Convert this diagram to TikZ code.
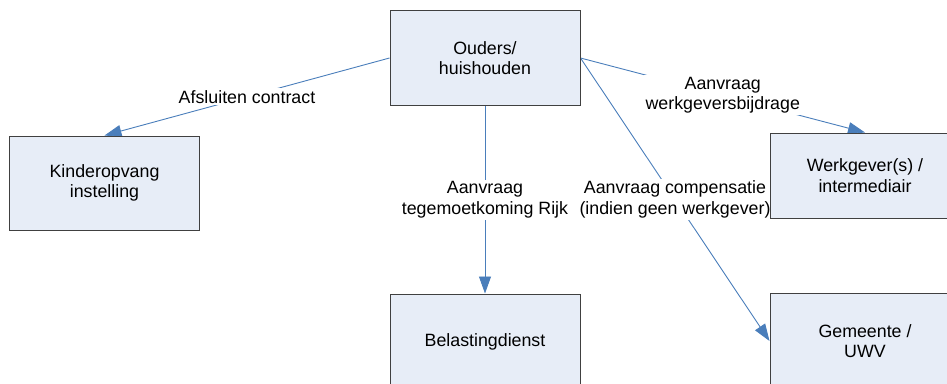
\documentclass[tikz,border=0pt]{standalone}
\usepackage{fontspec}
\setmainfont{Liberation Sans}
\usetikzlibrary{arrows.meta,backgrounds}
\definecolor{boxfill}{RGB}{231,237,247}
\definecolor{flowblue}{RGB}{74,126,187}

\begin{document}
\begin{tikzpicture}[x=1pt,y=-1pt,
    party/.style={draw=black!75,line width=1pt,fill=boxfill,
      minimum width=190pt,minimum height=95pt,inner sep=0pt,
      align=center,font=\fontsize{17.8}{20.5}\selectfont},
    request/.style={draw=flowblue,line width=0.9pt,
      -{Triangle[length=17pt,width=12pt]}},
    reqlabel/.style={fill=white,inner sep=2pt,
      align=center,font=\fontsize{17.8}{20.5}\selectfont}]
	\clip (0,0) rectangle (947,383);
	% parties
	\node[party] (ouders) at (485,58) {Ouders/\\huishouden};
	\node[party,minimum height=94pt] (kinder) at (104.5,183) {Kinderopvang\\instelling};
	\node[party,minimum height=85pt] (werkgever) at (865,175.5) {Werkgever(s) /\\intermediair};
	\node[party] (belasting) at (485,341.5) {Belastingdienst};
	\node[party] (gemeente) at (865,341) {Gemeente /\\UWV};
	% requests, kept under the boxes
	\begin{pgfonlayer}{background}
	\draw[request] (ouders.west) -- (kinder.north)
		node[reqlabel,midway] {Afsluiten contract};
	\draw[request] (ouders.south) -- (belasting.north)
		node[reqlabel,midway] {Aanvraag\\tegemoetkoming Rijk};
	\draw[request] (ouders.east) -- (werkgever.north)
		node[reqlabel,midway] {Aanvraag\\werkgeversbijdrage};
	\draw[request] (ouders.east) -- (gemeente.west)
		node[reqlabel,midway] {Aanvraag compensatie\\(indien geen werkgever)};
	\end{pgfonlayer}
\end{tikzpicture}
\end{document}
